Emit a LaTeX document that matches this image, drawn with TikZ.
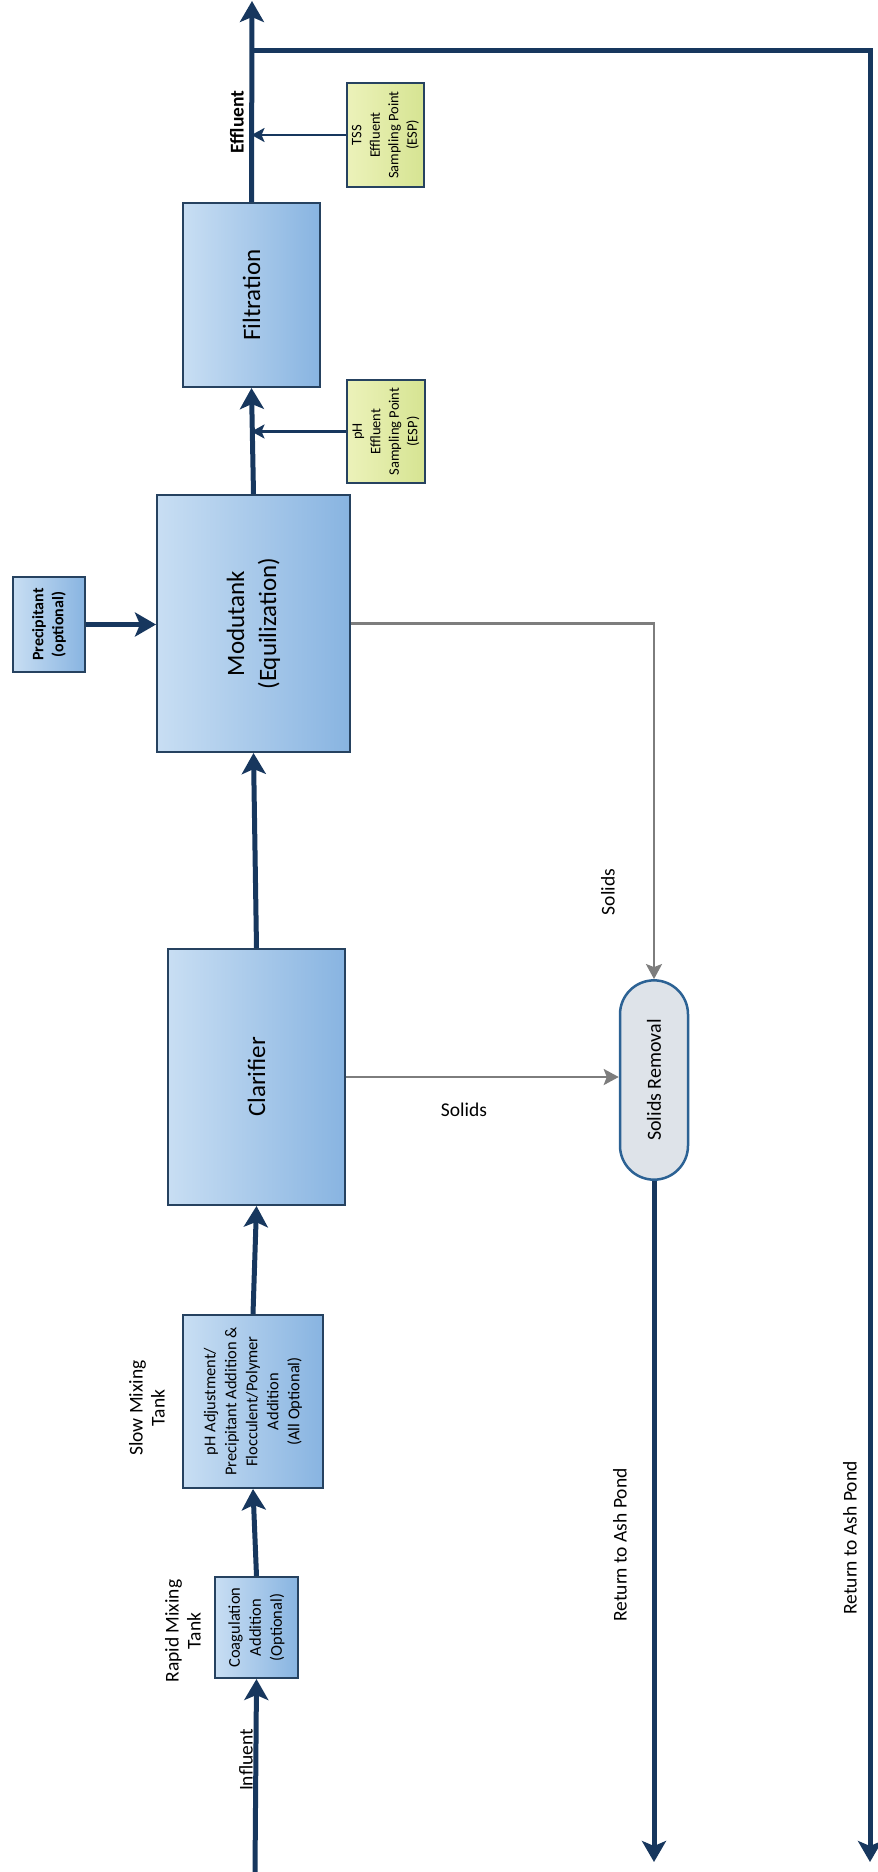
\documentclass[tikz,border=0pt]{standalone}
\usepackage{fontspec}
\setmainfont{Carlito}
\usetikzlibrary{arrows.meta,shapes.misc}
\definecolor{flowblue}{RGB}{23,55,94}
\definecolor{tanklight}{RGB}{200,222,243}
\definecolor{tankdark}{RGB}{136,180,225}
\definecolor{tankline}{RGB}{38,66,96}
\definecolor{esplight}{RGB}{236,242,186}
\definecolor{espdark}{RGB}{214,228,146}
\definecolor{solidfill}{RGB}{222,227,233}
\definecolor{solidline}{RGB}{44,98,148}
\definecolor{solidgray}{RGB}{125,125,125}
\begin{document}
\begin{tikzpicture}[x=1pt,y=-1pt,
    tank/.style={rotate=90,draw=tankline,line width=2pt,left color=tanklight,right color=tankdark,align=center,inner sep=2pt},
    esp/.style={rotate=90,draw=tankline,line width=2pt,left color=esplight,right color=espdark,align=center,inner sep=1pt,font=\fontsize{14.5}{18.5}\selectfont},
    smallfont/.style={font=\fontsize{16.5}{21}\selectfont},
    bigfont/.style={font=\fontsize{25}{32}\selectfont},
    lbl/.style={rotate=90,align=center,font=\fontsize{19.5}{22}\selectfont},
    flow/.style={draw=flowblue,line width=5pt,-{Stealth[length=21pt,width=24pt,inset=5pt]}},
    sample/.style={draw=flowblue,line width=2.5pt,-{Stealth[length=13pt,width=14pt,inset=3pt]}},
    solidsflow/.style={draw=solidgray,line width=2.5pt,-{Stealth[length=15pt,width=16pt,inset=3pt]}}]
  \useasboundingbox (0,0) rectangle (878,1872);
  % 处理单元
  \node[tank,smallfont,minimum width=101pt,minimum height=83pt] (rapid) at (256.5,1627.5) {Coagulation\\Addition\\(Optional)};
  \node[tank,smallfont,minimum width=173pt,minimum height=140pt] (slow) at (253,1401.5) {pH Adjustment/\\Precipitant Addition \&\\Flocculent/Polymer\\Addition\\(All Optional)};
  \node[tank,bigfont,minimum width=256pt,minimum height=177pt] (clar) at (256.5,1077) {Clarifier};
  \node[tank,bigfont,minimum width=257pt,minimum height=193pt] (modu) at (253.5,623.5) {Modutank\\(Equilization)};
  \node[tank,bigfont,minimum width=184pt,minimum height=137pt] (filt) at (251.5,295) {Filtration};
  \node[tank,font=\fontsize{16}{20}\selectfont\bfseries,minimum width=95pt,minimum height=72pt] (prec) at (49,624.5) {Precipitant\\(optional)};
  % 采样点
  \node[esp,minimum width=103pt,minimum height=78pt] (phs) at (386,431.5) {pH\\Effluent\\Sampling Point\\(ESP)};
  \node[esp,minimum width=104pt,minimum height=77pt] (tss) at (385.5,135) {TSS\\Effluent\\Sampling Point\\(ESP)};
  % 固体处理
  \node[rounded rectangle,rotate=90,draw=solidline,line width=2.5pt,fill=solidfill,minimum width=206pt,minimum height=68pt,font=\fontsize{20}{24}\selectfont] (solid) at (654,1080) {Solids Removal};
  % 端点
  \coordinate (inlet) at (255,1872);
  \coordinate (outlet) at (252,1);
  \coordinate (split) at (252,50);
  \coordinate (pond1) at (654,1862);
  \coordinate (pond2) at (870,1862);
  % 主流程
  \draw[flow] (inlet) -- (rapid.west);
  \draw[flow] (rapid.east) -- (slow.west);
  \draw[flow] (slow.east) -- (clar.west);
  \draw[flow] (clar.east) -- (modu.west);
  \draw[flow] (modu.east) -- (filt.west);
  \draw[flow] (filt.east) -- (outlet);
  \draw[flow] (split) -| (pond2);
  \draw[flow] (prec.south) -- (prec.south -| modu.north);
  \draw[flow] (solid.west) -- (pond1);
  % 采样箭头
  \draw[sample] (phs.north) -- (phs.north -| filt.west);
  \draw[sample] (tss.north) -- (tss.north -| filt.east);
  % 固体流向
  \draw[solidsflow] (modu.south) -| (solid.east);
  \draw[solidsflow] (clar.south) -- (clar.south -| solid.north);
  % 文字标注
  \node[lbl,font=\fontsize{19.5}{22}\selectfont\bfseries] (effl) at (237,122) {Effluent};
  \node[lbl] (infl) at (246,1760) {Influent};
  \node[lbl] (rapidlbl) at (183,1631) {Rapid Mixing\\Tank};
  \node[lbl] (slowlbl) at (147,1408) {Slow Mixing\\Tank};
  \node[lbl] (solidv) at (608,892) {Solids};
  \node[font=\fontsize{19.5}{22}\selectfont] (solidh) at (464,1110) {Solids};
  \node[lbl] (pondlbl1) at (620,1545) {Return to Ash Pond};
  \node[lbl] (pondlbl2) at (850,1538) {Return to Ash Pond};
\end{tikzpicture}
\end{document}
